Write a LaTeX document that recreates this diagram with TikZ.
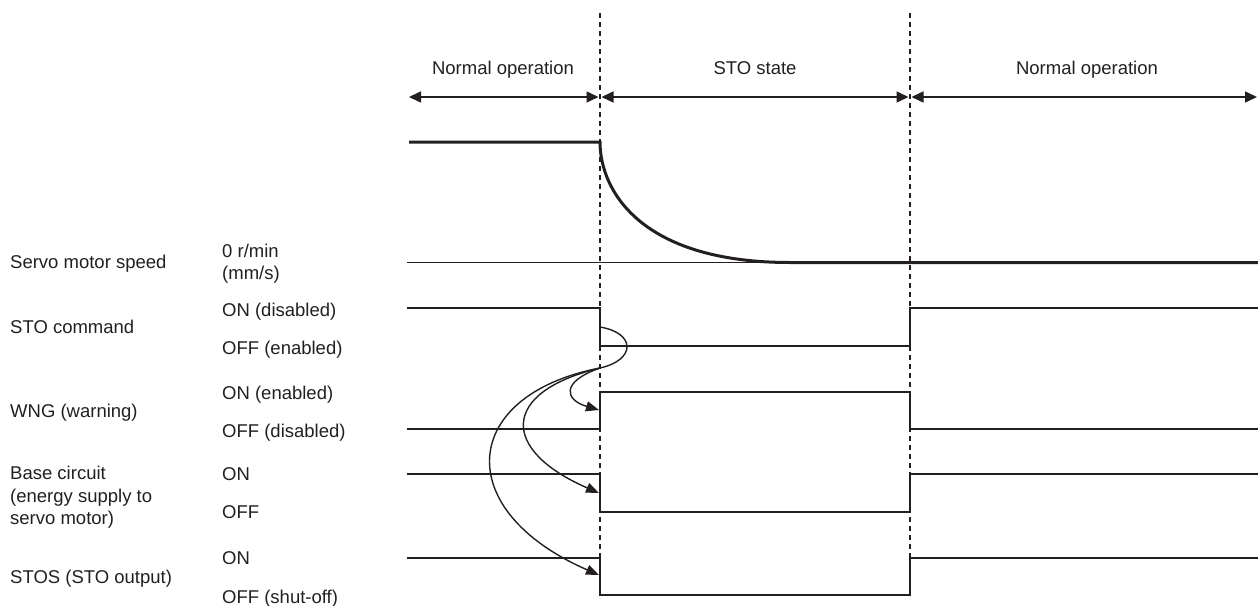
\documentclass[tikz,border=0pt]{standalone}
\usepackage{fontspec}
\setmainfont{Liberation Sans}
\usetikzlibrary{arrows.meta}
\definecolor{ink}{RGB}{35,31,32}
\begin{document}
\begin{tikzpicture}[x=1pt,y=-1pt,
  lbl/.style={anchor=base west, inner sep=0pt, text=ink, font=\fontsize{18.5}{22.5}\selectfont},
  toplbl/.style={anchor=base, inner sep=0pt, text=ink, font=\fontsize{18.5}{22.5}\selectfont},
  sig/.style={draw=ink, line width=1.6pt, line join=miter},
  guide/.style={draw=ink, line width=1.3pt, dash pattern=on 5pt off 4pt},
  spd/.style={draw=ink, line width=3pt},
  spanarrow/.style={draw=ink, line width=1.6pt, {Triangle[length=12pt,width=11pt]}-{Triangle[length=12pt,width=11pt]}},
  cause/.style={draw=ink, line width=1.4pt, -{Triangle[length=13pt,width=10pt]}}]
\useasboundingbox (0,0) rectangle (1258,605);

% phase labels
\node[toplbl] (n1) at (503,74.5) {Normal operation};
\node[toplbl] (n2) at (755,74.5) {STO state};
\node[toplbl] (n3) at (1087,74.5) {Normal operation};

% span arrows
\coordinate (a0) at (409,97);
\coordinate (a1) at (598.5,97);
\coordinate (a2) at (601.5,97);
\coordinate (a3) at (908.5,97);
\coordinate (a4) at (911.5,97);
\coordinate (a5) at (1257,97);
\draw[spanarrow] (a0) -- (a1);
\draw[spanarrow] (a2) -- (a3);
\draw[spanarrow] (a4) -- (a5);

% dashed guides
\draw[guide] (600,13) -- (600,598);
\draw[guide] (910,13) -- (910,598);

% left labels
\node[lbl] (l1) at (10,268.5) {Servo motor speed};
\node[lbl] (l2) at (10,333) {STO command};
\node[lbl] (l3) at (10,417) {WNG (warning)};
\node[lbl] (l4a) at (10,479.5) {Base circuit};
\node[lbl] (l4b) at (10,502.5) {(energy supply to};
\node[lbl] (l4c) at (10,524.5) {servo motor)};
\node[lbl] (l5) at (10,583) {STOS (STO output)};

% level labels
\node[lbl] (s1a) at (222,257.5) {0 r/min};
\node[lbl] (s1b) at (222,279.5) {(mm/s)};
\node[lbl] (s2a) at (222,316.5) {ON (disabled)};
\node[lbl] (s2b) at (222,354) {OFF (enabled)};
\node[lbl] (s3a) at (222,399.5) {ON (enabled)};
\node[lbl] (s3b) at (222,437) {OFF (disabled)};
\node[lbl] (s4a) at (222,480) {ON};
\node[lbl] (s4b) at (222,518.5) {OFF};
\node[lbl] (s5a) at (222,564.5) {ON};
\node[lbl] (s5b) at (222,603) {OFF (shut-off)};

% servo motor speed
\draw[sig] (407,262.5) -- (1258,262.5);
\draw[spd, line cap=butt] (409,142) -- (600,142) .. controls (600,190) and (640,262.5) .. (790,262.5) -- (1258,262.5);

% STO command
\draw[sig] (407,308) -- (600,308) -- (600,346) -- (910,346) -- (910,308) -- (1258,308);
% WNG
\draw[sig] (407,429) -- (600,429) -- (600,392) -- (910,392) -- (910,429) -- (1258,429);
% Base circuit
\draw[sig] (407,474) -- (600,474) -- (600,512) -- (910,512) -- (910,474) -- (1258,474);
% STOS
\draw[sig] (407,558) -- (600,558) -- (600,595) -- (910,595) -- (910,558) -- (1258,558);

% cause arrows
\coordinate (stoF) at (600,327);
\coordinate (br) at (600,368);
\coordinate (wngT) at (599,410);
\coordinate (bcT) at (599,493);
\coordinate (stosT) at (599,575);
\draw[draw=ink, line width=1.4pt] (stoF) .. controls (636,333) and (636,360) .. (br);
\draw[cause] (br) .. controls (560,382) and (565,400) .. (wngT);
\draw[cause] (br) .. controls (500,392) and (500,450) .. (bcT);
\draw[cause] (br) .. controls (460,395) and (450,510) .. (stosT);
\end{tikzpicture}
\end{document}
